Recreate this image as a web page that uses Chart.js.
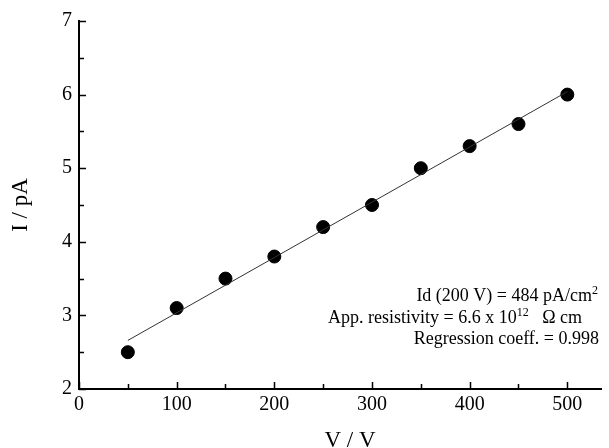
<!DOCTYPE html>
<html>
<head>
<meta charset="utf-8">
<script src="https://cdn.jsdelivr.net/npm/chart.js@4.4.1/dist/chart.umd.min.js"></script>
<style>
  html, body { margin: 0; padding: 0; background: #fff; }
  #wrap { width: 609px; height: 448px; }
</style>
</head>
<body>
<div id="wrap"><canvas id="chart"></canvas></div>
<script>
// Measured points
const voltages = [50, 100, 150, 200, 250, 300, 350, 400, 450, 500];
const currents = [2.5, 3.1, 3.5, 3.8, 4.2, 4.5, 5.0, 5.3, 5.6, 6.0];

// Regression line end points
const fitX = [50, 500];
const fitY = [2.66, 6.04];

// Tick labels
const xTicks = [0, 100, 200, 300, 400, 500];
const xMinor = [50, 150, 250, 350, 450];
const yTicks = [2, 3, 4, 5, 6, 7];
const yMinor = [2.5, 3.5, 4.5, 5.5, 6.5];

const serif = 'Liberation Serif';

// inward tick marks, x title and the note text
const extras = {
    id: 'extras',
    afterDraw(chart) {
        const ctx = chart.ctx;
        const xs = chart.scales.x;
        const ys = chart.scales.y;
        const area = chart.chartArea;
        ctx.save();
        ctx.strokeStyle = '#000';
        ctx.lineWidth = 1.5;
        ctx.beginPath();
        xTicks.forEach(v => {
            const px = Math.round(xs.getPixelForValue(v)) + 0.5;
            ctx.moveTo(px, area.bottom);
            ctx.lineTo(px, area.bottom - 7);
        });
        xMinor.forEach(v => {
            const px = Math.round(xs.getPixelForValue(v)) + 0.5;
            ctx.moveTo(px, area.bottom);
            ctx.lineTo(px, area.bottom - 5);
        });
        yTicks.forEach(v => {
            const py = Math.round(ys.getPixelForValue(v)) + 0.5;
            ctx.moveTo(area.left, py);
            ctx.lineTo(area.left + 7, py);
        });
        yMinor.forEach(v => {
            const py = Math.round(ys.getPixelForValue(v)) + 0.5;
            ctx.moveTo(area.left, py);
            ctx.lineTo(area.left + 5, py);
        });
        ctx.stroke();

        ctx.fillStyle = '#000';
        ctx.textBaseline = 'alphabetic';

        // x axis title
        ctx.font = '23px "' + serif + '"';
        ctx.textAlign = 'center';
        ctx.fillText('V / V', 350, 447);

        // note
        ctx.textAlign = 'left';
        const big = '18px "' + serif + '"';
        const small = '12px "' + serif + '"';
        function width(parts) {
            let w = 0;
            parts.forEach(p => {
                ctx.font = p.sup ? small : big;
                w += ctx.measureText(p.t).width;
            });
            return w;
        }
        function run(parts, x, y) {
            parts.forEach(p => {
                ctx.font = p.sup ? small : big;
                ctx.fillText(p.t, x, p.sup ? y - 7 : y);
                x += ctx.measureText(p.t).width;
            });
        }
        const line1 = [{ t: 'Id (200 V) = 484 pA/cm' }, { t: '2', sup: true }];
        const line2 = [{ t: 'App. resistivity = 6.6 x 10' }, { t: '12', sup: true }, { t: '   \u03A9 cm' }];
        const line3 = [{ t: 'Regression coeff. = 0.998' }];
        run(line1, 598 - width(line1), 301);
        run(line2, 328, 323);
        run(line3, 599 - width(line3), 344);
        ctx.restore();
    }
};

new Chart(document.getElementById('chart'), {
    type: 'scatter',
    data: {
        datasets: [
            {
                label: 'fit',
                type: 'line',
                data: fitX.map((x, i) => ({ x: x, y: fitY[i] })),
                borderColor: '#333',
                borderWidth: 1,
                pointRadius: 0,
                fill: false
            },
            {
                label: 'I',
                data: voltages.map((x, i) => ({ x: x, y: currents[i] })),
                backgroundColor: '#000',
                borderColor: '#000',
                pointRadius: 6.5,
                pointHoverRadius: 6.5
            }
        ]
    },
    options: {
        responsive: true,
        maintainAspectRatio: false,
        animation: false,
        events: [],
        layout: { padding: { top: 21, right: 0, left: 0, bottom: 0 } },
        plugins: {
            legend: { display: false },
            tooltip: { enabled: false }
        },
        scales: {
            x: {
                type: 'linear',
                min: 0,
                max: 535,
                afterBuildTicks: s => { s.ticks = xTicks.map(v => ({ value: v })); },
                afterFit: s => { s.height = 59; },
                grid: { display: false, drawTicks: false },
                border: { display: true, color: '#000', width: 2 },
                ticks: {
                    color: '#000',
                    padding: 4,
                    maxRotation: 0,
                    font: { family: serif, size: 20 }
                }
            },
            y: {
                min: 2,
                max: 7,
                afterBuildTicks: s => { s.ticks = yTicks.map(v => ({ value: v })); },
                afterFit: s => { s.width = 79; },
                grid: { display: false, drawTicks: false },
                border: { display: true, color: '#000', width: 2 },
                title: {
                    display: true,
                    text: 'I / pA',
                    color: '#000',
                    padding: { top: 7, bottom: 0 },
                    font: { family: serif, size: 23 }
                },
                ticks: {
                    color: '#000',
                    padding: 7,
                    font: { family: serif, size: 20 }
                }
            }
        }
    },
    plugins: [extras]
});
</script>
</body>
</html>
